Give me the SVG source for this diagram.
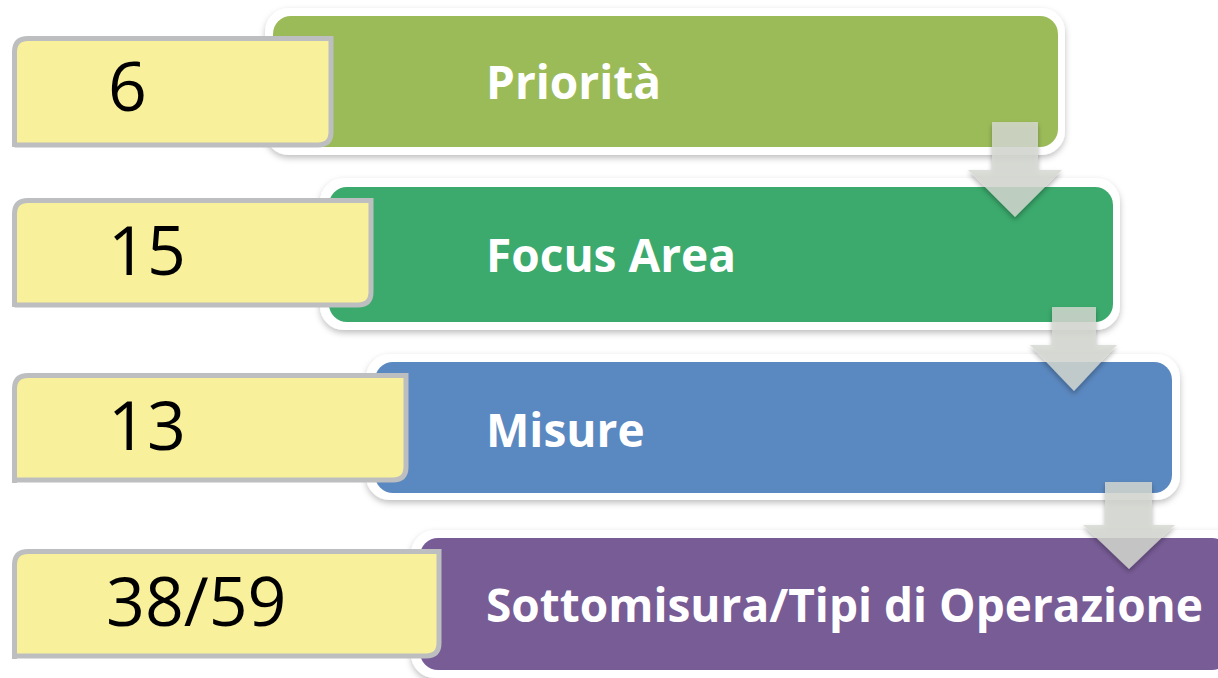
<svg xmlns="http://www.w3.org/2000/svg" width="1218" height="678" viewBox="0 0 1218 678">
<defs>
<style>
.lbl{font-family:"Open Sans","Liberation Sans",sans-serif;font-weight:700;font-size:46px;fill:#fff}
.num{font-family:"Open Sans","Liberation Sans",sans-serif;font-weight:400;font-size:68px;fill:#000}
.frame{fill:#fff}
.tag{fill:#F8F09A;stroke:#BDBEBF;stroke-width:5}
.arrow{fill:#D6D9D2;fill-opacity:0.82}
</style>
<filter id="sh" x="-5%" y="-10%" width="110%" height="125%">
<feDropShadow dx="0" dy="3" stdDeviation="3" flood-color="#000" flood-opacity="0.25"/>
</filter>
<filter id="ash" x="-20%" y="-20%" width="140%" height="140%">
<feDropShadow dx="0" dy="3" stdDeviation="2.5" flood-color="#000" flood-opacity="0.35"/>
</filter>
</defs>
<rect width="1218" height="678" fill="#fff"/>

<g id="node-priorita">
<rect class="frame" x="265" y="8" width="800" height="147" rx="24" filter="url(#sh)"/>
<rect x="273" y="16" width="785" height="131" rx="18" fill="#9BBB59"/>
<text class="lbl" x="486" y="99">Priorità</text>
</g>
<g id="node-focus">
<rect class="frame" x="320" y="178" width="800" height="152" rx="24" filter="url(#sh)"/>
<rect x="329" y="187" width="784" height="135" rx="18" fill="#3BAA6C"/>
<text class="lbl" x="486" y="272">Focus Area</text>
</g>
<g id="node-misure">
<rect class="frame" x="366" y="354" width="814" height="146" rx="24" filter="url(#sh)"/>
<rect x="375" y="362" width="797" height="131" rx="18" fill="#5A88C0"/>
<text class="lbl" x="486" y="447">Misure</text>
</g>
<g id="node-sottomisura">
<rect class="frame" x="411" y="530" width="830" height="148" rx="24" filter="url(#sh)"/>
<rect x="420" y="538" width="810" height="132" rx="18" fill="#785C96"/>
<text class="lbl" x="486" y="622">Sottomisura/Tipi di Operazione</text>
</g>

<g id="node-6">
<path class="tag" d="M14.5,147 V52 Q14.5,38.5 28,38.5 H331 V132 Q331,145 318,145 H14.5 Z"/>
<text class="num" x="108" y="111">6</text>
</g>
<g id="node-15">
<path class="tag" d="M14.5,307 V214 Q14.5,200.5 28,200.5 H371 V292 Q371,305 358,305 H14.5 Z"/>
<text class="num" x="108" y="275">15</text>
</g>
<g id="node-13">
<path class="tag" d="M14.5,483 V389 Q14.5,375.5 28,375.5 H406 V467 Q406,480 393,480 H14.5 Z"/>
<text class="num" x="108" y="450">13</text>
</g>
<g id="node-3859">
<path class="tag" d="M14.5,659 V565 Q14.5,551.5 28,551.5 H439 V643 Q439,656 426,656 H14.5 Z"/>
<text class="num" x="106" y="626">38/59</text>
</g>

<g id="connectors">
<path class="arrow" filter="url(#ash)" d="M992,122 H1038 V170 H1062 L1015,217 L968,170 H992 Z"/>
<path class="arrow" filter="url(#ash)" d="M1052,307 H1096 V345 H1117 L1074,391 L1030,345 H1052 Z"/>
<path class="arrow" filter="url(#ash)" d="M1105,482 H1152 V525 H1175 L1129,569 L1083,525 H1105 Z"/>
</g>
</svg>
